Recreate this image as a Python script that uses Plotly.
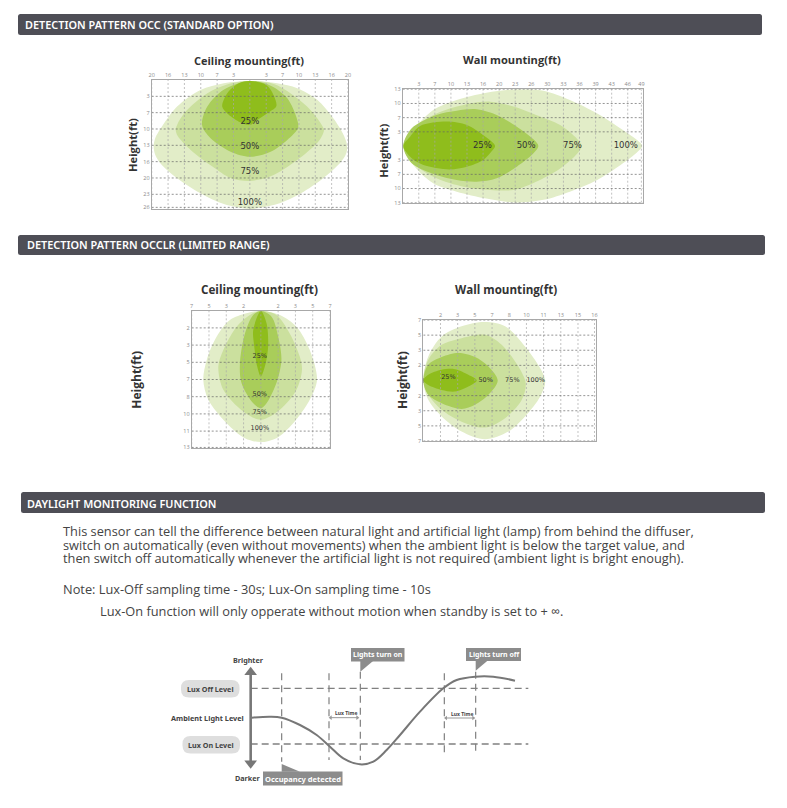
import plotly.graph_objects as go

W, H = 787, 808

# ---------- data: coverage outlines, in grid steps ----------
C1_100_X = [0, 1.67, 2.9, 4.1, 5.1, 5.7, 5.9, 5.95, 5.85, 5.5, 4.5, 3.1, 1.67, .45, 0, -1.59, -3.02, -4.45, -5.47, -5.78, -5.88, -5.78, -5.47, -4.45, -3.02, -1.59, 0]
C1_100_Y = [.06, .2, .5, 1.2, 2.35, 3.3, 3.8, 4.2, 4.6, 5.1, 6.0, 6.95, 7.6, 7.85, 7.9, 7.6, 6.94, 6.02, 5.1, 4.6, 4.08, 3.55, 3.0, 1.63, .61, .2, .06]
C1_75_X = [0, 1.47, 2.5, 3.5, 4.3, 4.53, 4.4, 4.1, 2.9, 1.27, 0, -1.18, -2.29, -3.6, -4.4, -4.53, -4.4, -3.84, -2.62, -1.39, 0]
C1_75_Y = [.06, .25, .82, 1.63, 2.6, 3.06, 3.45, 3.88, 4.9, 5.9, 6.18, 6.0, 5.3, 4.3, 3.45, 3.06, 2.65, 1.84, .82, .27, .06]
C1_50_X = [0, 1.27, 2.29, 2.9, 2.94, 2.29, 1.27, 0, -1.18, -2.4, -2.92, -2.6, -1.6, 0]
C1_50_Y = [.06, .35, 1.12, 2.45, 2.96, 3.67, 4.39, 4.7, 4.39, 3.57, 2.76, 1.63, .6, .06]
C1_25_X = [0, 1.06, 1.57, 1.61, 1.06, .45, 0, -.67, -1.39, -1.69, -1.39, -.67, 0]
C1_25_Y = [.06, .35, 1.22, 1.63, 2.04, 2.45, 2.75, 2.55, 2.04, 1.63, .82, .2, .06]

W1_100_X = [.04, .66, 1.9, 3.36, 5.2, 7.1, 8.76, 10.4, 12.1, 13.7, 14.6, 14.9, 14.6, 13.7, 12.1, 10.4, 8.76, 7.1, 5.2, 3.36, 1.9, .66, .04]
W1_100_Y = [0, 1.13, 2.54, 3.25, 3.76, 4, 3.9, 3.25, 2.3, 1.13, .4, 0, -.42, -1.22, -2.4, -3.22, -3.8, -4, -3.7, -3.22, -2.63, -1.34, 0]
W1_75_X = [.04, .66, 2.1, 3.78, 5.44, 6.9, 8.3, 9.8, 10.85, 11.14, 10.85, 9.8, 8.3, 6.9, 5.44, 3.78, 2.1, .66, .04]
W1_75_Y = [0, 1.25, 2.3, 2.9, 3.13, 2.78, 2.19, 1.48, .5, 0, -.55, -1.58, -2.52, -3.1, -3.1, -2.87, -2.28, -1.22, 0]
W1_50_X = [.04, .56, 2.1, 3.36, 4.6, 5.85, 7.1, 8.15, 8.44, 8.15, 7.1, 5.85, 4.6, 3.36, 2.1, .56, .04]
W1_50_Y = [0, 1.25, 2.19, 2.49, 2.59, 2.19, 1.36, .45, 0, -.5, -1.46, -2.28, -2.52, -2.4, -2.05, -1.22, 0]
W1_25_X = [.04, .46, 1.08, 2.74, 4, 5, 5.55, 5.75, 5.55, 5, 4, 2.9, 1.29, .56, .04]
W1_25_Y = [0, .66, 1.41, 1.72, 1.48, .78, .3, 0, -.35, -.99, -1.46, -1.65, -1.34, -.87, 0]

C2_100_X = [0, 1.1, 2.06, 2.83, 3.25, 2.83, 1.87, .9, 0, -.92, -1.98, -3.04, -3.33, -3.13, -2.56, -1.79, -.83, 0]
C2_100_Y = [.02, .25, .93, 2.28, 4.02, 5.18, 6.54, 7.41, 7.64, 7.41, 6.54, 5.18, 4.02, 2.86, 1.51, .54, .15, .02]
C2_75_X = [0, .9, 1.67, 2.25, 2.38, 2.06, 1.1, 0, -1.02, -2.17, -2.46, -2.17, -1.4, -.63, 0]
C2_75_Y = [.02, .25, 1.32, 2.67, 3.44, 4.6, 5.76, 6.34, 5.86, 4.6, 3.25, 2.28, .93, .25, .02]
C2_50_X = [0, .62, 1, 1.19, .9, .33, 0, -.44, -1.12, -1.21, -.92, -.44, 0]
C2_50_Y = [.02, .35, 1.5, 2.86, 4.2, 5.38, 5.67, 5.38, 4.2, 3.06, 1.32, .25, .02]
C2_25_X = [0, .33, .42, .23, 0, -.21, -.38, -.44, 0]
C2_25_Y = [.02, .73, 2.09, 3.25, 3.83, 3.25, 2.09, 1.12, .02]

W2_100_X = [0, .29, 1.07, 2.23, 3.59, 4.76, 5.92, 7.09, 6.8, 5.92, 4.95, 3.59, 2.23, 1.07, .29, 0]
W2_100_Y = [0, 1.59, 2.91, 3.58, 3.86, 3.58, 2.25, .04, -1.06, -2.38, -3.38, -3.89, -3.38, -2.38, -1.28, 0]
W2_75_X = [0, .29, 1.07, 2.23, 3.59, 4.56, 5.53, 5.96, 5.73, 4.76, 3.59, 2.23, 1.07, .29, 0]
W2_75_Y = [0, 1.37, 2.36, 2.8, 3.02, 2.36, .93, -.18, -1.28, -2.49, -3.11, -2.72, -1.94, -.95, 0]
W2_50_X = [0, .29, 1.07, 2.04, 3.01, 3.79, 4.33, 3.79, 3.01, 2.23, 1.07, .29, 0]
W2_50_Y = [0, 1.04, 1.55, 1.81, 1.55, .93, 0, -.95, -1.61, -1.88, -1.5, -.95, 0]
W2_25_X = [0, .29, 1.07, 1.84, 2.62, 3.11, 2.62, 1.84, 1.07, .29, 0]
W2_25_Y = [0, .38, .71, .75, .38, 0, -.4, -.73, -.62, -.29, 0]

PCT = ["25%", "50%", "75%", "100%"]
C1_PCT_X = [0, 0, 0, 0]
C1_PCT_Y = [2.55, 4.08, 5.65, 7.51]
W1_PCT_X = [4.96, 7.68, 10.56, 13.88]
W1_PCT_Y = [0, 0, 0, 0]
C2_PCT_X = [-.06, -.06, -.06, -.06]
C2_PCT_Y = [2.63, 4.85, 5.9, 6.83]
W2_PCT_X = [1.46, 3.63, 5.18, 6.54]
W2_PCT_Y = [.2, 0, 0, 0]

# tick labels
C1_XT = ["20", "16", "13", "10", "7", "3", "", "3", "7", "10", "13", "16", "20"]
C1_XV = [-6, -5, -4, -3, -2, -1, 0, 1, 2, 3, 4, 5, 6]
C1_YT = ["3", "7", "10", "13", "16", "20", "23", "26"]
C1_YV = [1, 2, 3, 4, 5, 6, 7, 7.8]
W1_XT = ["3", "7", "10", "13", "16", "20", "23", "26", "30", "33", "36", "39", "43", "46", "49"]
W1_XV = [1, 2, 3, 4, 5, 6, 7, 8, 9, 10, 11, 12, 13, 14, 14.85]
W1_YT = ["13", "10", "7", "3", "3", "7", "10", "13"]
W1_YV = [4, 3, 2, 1, -1, -2, -3, -4]
C2_XT = ["7", "5", "3", "2", "", "2", "3", "5", "7"]
C2_XV = [-4, -3, -2, -1, 0, 1, 2, 3, 4]
C2_YT = ["2", "3", "5", "7", "8", "10", "11", "13"]
C2_YV = [1, 2, 3, 4, 5, 6, 7, 7.95]
W2_XT = ["2", "3", "5", "7", "8", "10", "11", "13", "15", "16"]
W2_XV = [1, 2, 3, 4, 5, 6, 7, 8, 9, 9.96]
W2_YT = ["7", "5", "3", "2", "2", "3", "5", "7"]
W2_YV = [4, 3, 2, 1, -1, -2, -3, -4]

# daylight diagram
CURVE_T = [275, 330, 365, 420, 470, 510, 550, 600, 640, 680, 720, 780, 850, 890, 945, 1000, 1065]
CURVE_L = [233, 230, 233, 255, 285, 320, 355, 373, 365, 330, 285, 215, 145, 120, 110, 110, 122]
EVENT_T = [365, 507, 601, 853, 947]
EVENT_TOP = [100, 100, 95, 100, 95]
EVENT_BOTTOM = [365, 360, 360, 350, 345]
LEVELS = [145, 312]

FILLS = ["#e2edc8", "#cbe09e", "#a9cd5a", "#8fbd1c"]
DARK = "#4e4e56"
TICK = "#8a8a8a"

fig = go.Figure()


def px_x(v):
    return v / W


def px_y(v):
    return 1 - v / H


def panel(i, box, xr, yr, xv, xt, yv, yt, outlines, pct, pct_size, mark):
    left, top, right, bottom = box
    sfx = "" if i == 1 else str(i)
    fig.update_layout({
        "xaxis" + sfx: dict(domain=[px_x(left), px_x(right)], range=xr, side="top", tickvals=xv, ticktext=xt,
                            showgrid=False, zeroline=False, showline=True, mirror=True, linecolor="#a8a8a8", linewidth=1,
                            ticks="", automargin=False, tickfont=dict(size=5.5, color=TICK, family="Open Sans"), anchor="y" + sfx, fixedrange=True),
        "yaxis" + sfx: dict(domain=[px_y(bottom), px_y(top)], range=yr, tickvals=yv, ticktext=yt,
                            showgrid=False, zeroline=False, showline=True, mirror=True, linecolor="#a8a8a8", linewidth=1,
                            ticks="", automargin=False, tickfont=dict(size=5.5, color=TICK, family="Open Sans"), anchor="x" + sfx, fixedrange=True),
    })
    ax = dict(xaxis="x" + sfx, yaxis="y" + sfx, showlegend=False, hoverinfo="skip")
    for (ox, oy), color in zip(outlines, FILLS):
        fig.add_trace(go.Scatter(x=ox, y=oy, mode="lines", fill="toself", fillcolor=color,
                                 line=dict(width=0, shape="spline", smoothing=.9, color=color), **ax))
    for v in xv:
        fig.add_trace(go.Scatter(x=[v, v], y=yr, mode="lines", line=dict(color="#a8a8a8", width=.7, dash="2px,2px"), **ax))
    for v in yv:
        fig.add_trace(go.Scatter(x=xr, y=[v, v], mode="lines", line=dict(color="#666666", width=.7, dash="2px,2px"), **ax))
    fig.add_trace(go.Scatter(x=pct[0], y=pct[1], mode="text", text=PCT, textposition="middle center",
                             textfont=dict(size=pct_size, color="#333333", family="DejaVu Sans"), **ax))
    fig.add_trace(go.Scatter(x=mark[0], y=mark[1], mode="lines", cliponaxis=False,
                             line=dict(color="#55555c", width=3.2), **ax))


panel(1, (151.7, 80, 348, 209), [-6, 6], [7.9, 0], C1_XV, C1_XT, C1_YV, C1_YT,
      [(C1_100_X, C1_100_Y), (C1_75_X, C1_75_Y), (C1_50_X, C1_50_Y), (C1_25_X, C1_25_Y)], (C1_PCT_X, C1_PCT_Y), 8.5, ([-.2, .2], [-.1, -.1]))
panel(2, (402.7, 89.3, 643, 202.7), [0, 14.95], [-4, 4], W1_XV, W1_XT, W1_YV, W1_YT,
      [(W1_100_X, W1_100_Y), (W1_75_X, W1_75_Y), (W1_50_X, W1_50_Y), (W1_25_X, W1_25_Y)], (W1_PCT_X, W1_PCT_Y), 8.5, ([-.1, -.1], [.17, -.17]))
panel(3, (191.7, 310.7, 330, 448.3), [-4, 4], [8, 0], C2_XV, C2_XT, C2_YV, C2_YT,
      [(C2_100_X, C2_100_Y), (C2_75_X, C2_75_Y), (C2_50_X, C2_50_Y), (C2_25_X, C2_25_Y)], (C2_PCT_X, C2_PCT_Y), 6.5, ([-.2, .2], [-.1, -.1]))
panel(4, (423.3, 320, 595.7, 441), [0, 10.03], [-4, 4], W2_XV, W2_XT, W2_YV, W2_YT,
      [(W2_100_X, W2_100_Y), (W2_75_X, W2_75_Y), (W2_50_X, W2_50_Y), (W2_25_X, W2_25_Y)], (W2_PCT_X, W2_PCT_Y), 6.5, ([-.08, -.08], [.17, -.17]))

# ---------- daylight diagram on its own hidden axes ----------
fig.update_layout(
    xaxis5=dict(domain=[px_x(160), px_x(530)], range=[0, 1110], visible=False, anchor="y5", fixedrange=True),
    yaxis5=dict(domain=[px_y(795), px_y(640)], range=[465, 0], visible=False, anchor="x5", fixedrange=True),
)
D = dict(xaxis="x5", yaxis="y5", showlegend=False, hoverinfo="skip", cliponaxis=False)
GREY = "#808080"
for lv in LEVELS:
    fig.add_trace(go.Scatter(x=[272, 1105], y=[lv, lv], mode="lines", line=dict(color=GREY, width=1.4, dash="7px,4px"), **D))
for t, a, b in zip(EVENT_T, EVENT_TOP, EVENT_BOTTOM):
    fig.add_trace(go.Scatter(x=[t, t], y=[a, b], mode="lines", line=dict(color=GREY, width=1.2, dash="7px,5px"), **D))
fig.add_trace(go.Scatter(x=CURVE_T, y=CURVE_L, mode="lines", line=dict(color="#777777", width=2, shape="spline"), **D))
fig.add_trace(go.Scatter(x=[272, 272], y=[100, 368], mode="lines", line=dict(color="#777777", width=2.6), **D))
fig.add_trace(go.Scatter(x=[272, 272], y=[97, 370], mode="markers",
                         marker=dict(symbol=["triangle-up", "triangle-down"], size=11, color="#777777"), **D))
for a, b, y in [(512, 592, 233), (858, 940, 234)]:
    fig.add_trace(go.Scatter(x=[a, b], y=[y, y], mode="lines+markers", line=dict(color="#999999", width=1),
                             marker=dict(symbol=["triangle-left", "triangle-right"], size=4, color="#999999"), **D))
# callout pointers and boxes
for px_, py_ in [([601, 601, 640], [62, 95, 62]), ([947, 947, 985], [60, 92, 60]), ([365, 365, 420], [395, 372, 395])]:
    fig.add_trace(go.Scatter(x=px_, y=py_, mode="lines", fill="toself", fillcolor="#8c8c8c", line=dict(width=0), **D))

shapes = []


def rrect(l, t, r, b, rad, color):
    def X(v):
        return v / W

    def Y(v):
        return 1 - v / H
    p = (f"M {X(l+rad)} {Y(t)} L {X(r-rad)} {Y(t)} Q {X(r)} {Y(t)} {X(r)} {Y(t+rad)} L {X(r)} {Y(b-rad)} "
         f"Q {X(r)} {Y(b)} {X(r-rad)} {Y(b)} L {X(l+rad)} {Y(b)} Q {X(l)} {Y(b)} {X(l)} {Y(b-rad)} "
         f"L {X(l)} {Y(t+rad)} Q {X(l)} {Y(t)} {X(l+rad)} {Y(t)} Z")
    shapes.append(dict(type="path", path=p, xref="paper", yref="paper", fillcolor=color, line=dict(width=0), layer="below"))


rrect(18, 14, 762, 35, 2.5, DARK)
rrect(18, 235, 765, 255, 2.5, DARK)
rrect(21, 492, 765, 513, 2.5, DARK)
rrect(181, 680, 239.5, 697.5, 8, "#dedede")
rrect(182.5, 736, 240, 753.5, 8, "#dedede")
rrect(351, 648, 404.5, 661.5, 0, "#8c8c8c")
rrect(466, 648, 521, 661, 0, "#8c8c8c")
rrect(263, 771.5, 342.5, 785.5, 0, "#8c8c8c")

ann = []


def T(text, x, y, size, color="#333333", bold=False, anchor="center", family="Open Sans", angle=0, weight=None):
    font = dict(size=size, color=color, family=family)
    if weight:
        font["weight"] = weight
    ann.append(dict(text=f"<b>{text}</b>" if bold else text, x=x / W, y=1 - y / H, xref="paper", yref="paper", showarrow=False,
                    xanchor=anchor, yanchor="middle", textangle=angle, font=font))


HF = "Noto Sans"
T("DETECTION PATTERN OCC (STANDARD OPTION)", 23, 24.5, 10.9, "#ffffff", False, "left", HF, weight=600)
T("DETECTION PATTERN OCCLR (LIMITED RANGE)", 25, 245, 10.9, "#ffffff", False, "left", HF, weight=600)
T("DAYLIGHT MONITORING FUNCTION", 25, 503, 10.9, "#ffffff", False, "left", HF, weight=600)

for s, x, y, z in [("Ceiling mounting(ft)", 248.7, 61, 11), ("Wall mounting(ft)", 511.7, 60, 11.1),
                   ("Ceiling mounting(ft)", 259, 289, 11.7), ("Wall mounting(ft)", 505.7, 289, 11.6)]:
    T(s, x, y, z, "#333333", True)
for x, y, z in [(132, 145, 11.2), (382.7, 151, 11.2), (135.7, 380, 12), (402, 380, 12)]:
    T("Height(ft)", x, y, z, "#333333", True, angle=-90)

BODY = "#444444"
T("This sensor can tell the difference between natural light and artificial light (lamp) from behind the diffuser,", 61, 530.5, 12.8, BODY, False, "left")
T("switch on automatically (even without movements) when the ambient light is below the target value, and", 61, 544.5, 12.8, BODY, False, "left")
T("then switch off automatically whenever the artificial light is not required (ambient light is bright enough).", 61, 557.5, 12.8, BODY, False, "left")
T("Note: Lux-Off sampling time - 30s; Lux-On sampling time - 10s", 61, 588.5, 12.8, BODY, False, "left")
T("Lux-On function will only opperate without motion when standby is set to + ∞.", 98, 610.5, 12.8, BODY, False, "left")

DF = "Noto Sans"
T("Brighter", 248.5, 659.5, 7.2, "#444444", True, family=DF)
T("Ambient Light Level", 207, 717.5, 7.3, "#444444", True, family=DF)
T("Darker", 248, 777.5, 7.2, "#444444", True, family=DF)
T("Lux Off Level", 210, 689, 7.2, "#444444", True, family=DF)
T("Lux On Level", 211, 745, 7.2, "#444444", True, family=DF)
T("Lights turn on", 378, 654.5, 7, "#ffffff", True, family=DF)
T("Lights turn off", 494, 654.5, 7, "#ffffff", True, family=DF)
T("Occupancy detected", 303, 778.5, 7.5, "#ffffff", True, family=DF)
T("Lux Time", 346, 712.5, 5, "#444444", True, family=DF)
T("Lux Time", 462, 713.5, 5, "#444444", True, family=DF)

fig.update_layout(width=W, height=H, margin=dict(l=0, r=0, t=0, b=0, pad=0, autoexpand=False), autosize=False,
                  paper_bgcolor="white", plot_bgcolor="rgba(0,0,0,0)", shapes=shapes, annotations=ann,
                  hovermode=False, showlegend=False)

fig.write_html("out.html", config=dict(displayModeBar=False),
               post_script="document.body.style.margin='0';document.documentElement.style.overflow='hidden';window.dispatchEvent(new Event('resize'));")
